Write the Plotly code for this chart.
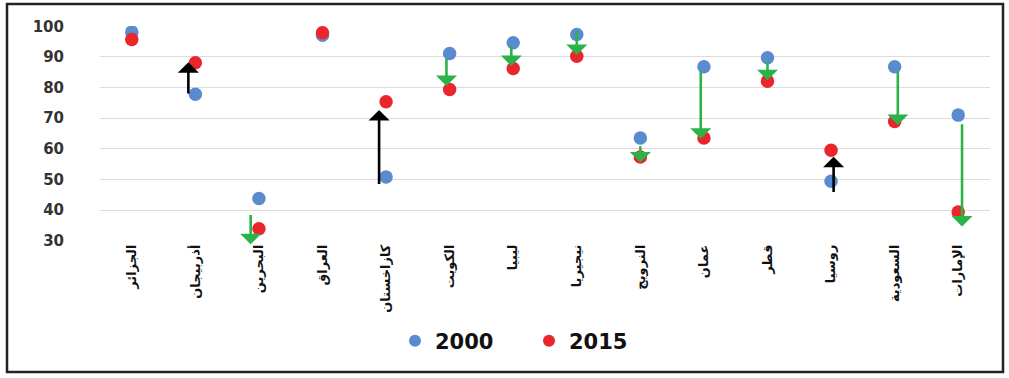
import plotly.graph_objects as go

countries = ["الجزائر", "أذربيجان", "البحرين", "العراق", "كازاخستان", "الكويت", "ليبيا",
             "نيجيريا", "النرويج", "عمان", "قطر", "روسيا", "السعودية", "الإمارات"]
v2000 = [98.1, 77.8, 43.8, 97.1, 50.8, 91.1, 94.6, 97.3, 63.5, 86.8, 89.7, 49.4, 86.8, 71.0]
v2015 = [95.7, 88.1, 33.9, 97.9, 75.4, 79.4, 86.2, 90.2, 57.3, 63.5, 82.1, 59.5, 68.9, 39.4]

# arrows (tail value, tip value, horizontal offset in category units)
arrow_from = [None, 77.6, 38.9, None, 48.0, 89.9, 94.1, 99.0, 61.3, 85.7, 89.0, 45.4, 85.7, 68.5]
arrow_to = [None, 88.3, 28.8, None, 72.7, 80.5, 87.0, 90.6, 55.5, 63.3, 82.4, 57.4, 67.8, 34.6]
arrow_dx = [0, -0.11, -0.13, 0, -0.11, -0.05, -0.03, 0, 0, -0.05, 0, 0.04, 0.05, 0.06]

yticks = [30, 40, 50, 60, 70, 80, 90, 100]

BLUE = "#5b8bcf"
RED = "#e8262b"
GREEN = "#2db24a"

idx = list(range(len(countries)))

fig = go.Figure()
fig.add_trace(go.Scatter(x=idx, y=v2000, mode="markers", name="2000",
                         marker=dict(color=BLUE, size=13.5, line=dict(width=0))))
fig.add_trace(go.Scatter(x=idx, y=v2015, mode="markers", name="2015",
                         marker=dict(color=RED, size=13.5, line=dict(width=0))))

annotations = []
for i in idx:
    if arrow_from[i] is None:
        continue
    up = arrow_to[i] > arrow_from[i]
    color = "#000000" if up else GREEN
    annotations.append(dict(
        x=i + arrow_dx[i], y=arrow_to[i], ax=i + arrow_dx[i], ay=arrow_from[i],
        xref="x", yref="y", axref="x", ayref="y",
        showarrow=True, arrowhead=1, arrowsize=1.35, arrowwidth=2.6,
        arrowcolor=color, text="", standoff=0, startstandoff=0))

L, R, T, B = 100, 19, 26, 137
W, H = 1009, 378
pw, ph = W - L - R, H - T - B

def px_x(p):
    return (p - L) / pw

def px_y(p):
    return (H - B - p) / ph

fig.update_layout(
    width=W, height=H,
    margin=dict(l=L, r=R, t=T, b=B),
    paper_bgcolor="white", plot_bgcolor="white",
    showlegend=True,
    legend=dict(orientation="h", x=px_x(395), xanchor="left", y=px_y(341), yanchor="middle",
                font=dict(family="DejaVu Sans", size=21, color="#111111", weight="bold"),
                itemsizing="constant", tracegroupgap=0, itemwidth=30,
                entrywidth=89, entrywidthmode="pixels"),
    annotations=annotations,
    shapes=[dict(type="rect", xref="paper", yref="paper",
                 x0=px_x(7), x1=px_x(1003), y0=px_y(372), y1=px_y(4),
                 line=dict(color="#222222", width=2.5), layer="above")],
    xaxis=dict(range=[-0.5, 13.5], tickvals=idx, ticktext=countries, tickangle=-90,
               showgrid=False, zeroline=False, showline=False, ticks="",
               tickfont=dict(family="DejaVu Sans", size=13, color="#111111", weight="bold")),
    yaxis=dict(range=[29.9, 100.1], tickvals=yticks, showgrid=True, gridcolor="#dcdcdc",
               gridwidth=1, zeroline=False, showline=False, ticks="",
               ticklabelstandoff=35,
               tickfont=dict(family="DejaVu Sans", size=15, color="#333333", weight="bold")),
)

fig.write_html("out.html", config={"displayModeBar": False},
               post_script="document.body.style.margin='0px';document.body.style.overflow='hidden';")
